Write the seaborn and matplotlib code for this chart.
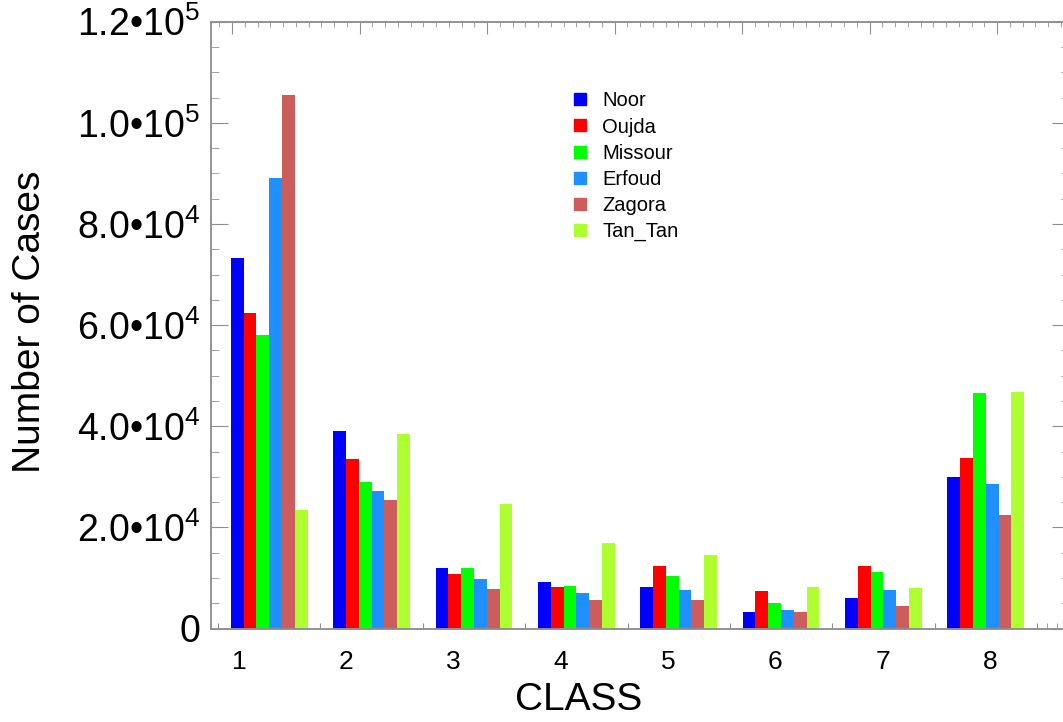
import matplotlib
matplotlib.use('Agg')
import matplotlib.pyplot as plt
from matplotlib.lines import Line2D
from matplotlib.ticker import MultipleLocator, FixedLocator, FuncFormatter
import numpy as np
import pandas as pd
import seaborn as sns

# values
classes = ['1', '2', '3', '4', '5', '6', '7', '8']
stations = ['Noor', 'Oujda', 'Missour', 'Erfoud', 'Zagora', 'Tan_Tan']
noor = [73200, 39100, 11900, 9100, 8200, 3300, 6000, 30000]
oujda = [62300, 33500, 10700, 8200, 12300, 7400, 12300, 33800]
missour = [58000, 29000, 12000, 8500, 10400, 5000, 11100, 46600]
erfoud = [89100, 27200, 9700, 7100, 7700, 3600, 7700, 28500]
zagora = [105600, 25400, 7800, 5600, 5600, 3300, 4500, 22500]
tantan = [23400, 38500, 24700, 16900, 14600, 8300, 8000, 46700]
colors = ['#0000ff', '#ff0000', '#00ff00', '#1e90ff', '#cd5c5c', '#adff2f']

series = [noor, oujda, missour, erfoud, zagora, tantan]
df = pd.DataFrame({
    'CLASS': classes * len(stations),
    'station': [s for s in stations for _ in classes],
    'cases': [v for vals in series for v in vals],
})

sns.set_style('white')
plt.rcParams['font.family'] = ['Liberation Sans', 'DejaVu Sans']
plt.rcParams['mathtext.fontset'] = 'custom'
plt.rcParams['mathtext.rm'] = 'Liberation Sans'
plt.rcParams['mathtext.it'] = 'Liberation Sans'
plt.rcParams['text.color'] = 'black'

grey = '#8f8f8f'
fig = plt.figure(figsize=(10.63, 7.22), dpi=100)
ax = fig.add_axes([211 / 1063, 1 - 628.5 / 722, (1069 - 211) / 1063, (628.5 - 21.7) / 722])

sns.barplot(data=df, x='CLASS', y='cases', hue='station', hue_order=stations,
            palette=colors, width=0.75, saturation=1, linewidth=0,
            legend=False, ax=ax)

ax.set_xlim(-0.5 - 7 / 102.4, 7.5 + 32 / 102.4)
ax.set_ylim(0, 1.2e5)
for sp in ax.spines.values():
    sp.set_color(grey)
    sp.set_linewidth(1.1)

# x axis: small ticks at group boundaries, class labels placed separately
ax.xaxis.set_major_locator(FixedLocator(np.arange(-0.5, 8, 1.0)))
ax.xaxis.set_minor_locator(FixedLocator([7.6, 7.7]))
ax.tick_params(axis='x', which='both', direction='in', length=4.3, color=grey,
               bottom=True, top=False, labelbottom=False)
ax.set_xlabel('')
label_x = -0.295 + 1.048 * np.arange(len(classes))
for xp, c in zip(label_x, classes):
    ax.text(xp, -0.0547, c, transform=ax.get_xaxis_transform(),
            ha='center', va='center', fontsize=19, color='black')


def sci_fmt(v, pos):
    if v <= 0:
        return '0'
    e = int(np.floor(np.log10(v)))
    m = v / 10 ** e
    return f'{m:.1f}\u2022' + '10$^{' + str(e) + '}$'


ax.yaxis.set_major_locator(MultipleLocator(20000))
ax.yaxis.set_minor_locator(MultipleLocator(5000))
ax.yaxis.set_major_formatter(FuncFormatter(sci_fmt))
ax.tick_params(axis='y', which='major', direction='in', length=12, color=grey,
               left=True, right=True, labelsize=27, pad=8, labelcolor='black')
ax.tick_params(axis='y', which='minor', direction='in', length=5.8, color=grey,
               left=True, right=True)
ax.set_ylabel('')

# top axis carries its own default ticks
ax_top = ax.twiny()
ax_top.set_xlim(-21 / 127.5, (1069 - 232) / 127.5)
ax_top.xaxis.set_major_locator(MultipleLocator(1))
ax_top.xaxis.set_minor_locator(MultipleLocator(0.1))
ax_top.tick_params(axis='x', which='major', direction='in', length=8.5,
                   color=grey, labeltop=False)
ax_top.tick_params(axis='x', which='minor', direction='in', length=3.6,
                   color=grey)
for sp in ax_top.spines.values():
    sp.set_color(grey)
    sp.set_linewidth(1.1)

fig.text(579 / 1063, 1 - 700 / 722, 'CLASS', ha='center', va='center',
         fontsize=28, color='black')
fig.text(30 / 1063, 1 - 322 / 722, 'Number of Cases', ha='center', va='center',
         rotation=90, fontsize=28, color='black')

handles = [Line2D([], [], marker='s', linestyle='none', markersize=8,
                  markerfacecolor=c, markeredgecolor=c) for c in colors]
leg = ax.legend(handles, stations, loc='upper left', frameon=False,
                bbox_to_anchor=(570.5 / 1063, 1 - 91.5 / 722),
                bbox_transform=fig.transFigure, fontsize=14.5, borderpad=0,
                borderaxespad=0, handlelength=0.95, handletextpad=0.62,
                labelspacing=0.35)
for t in leg.get_texts():
    t.set_color('black')

fig.savefig('out.png', dpi=100)
